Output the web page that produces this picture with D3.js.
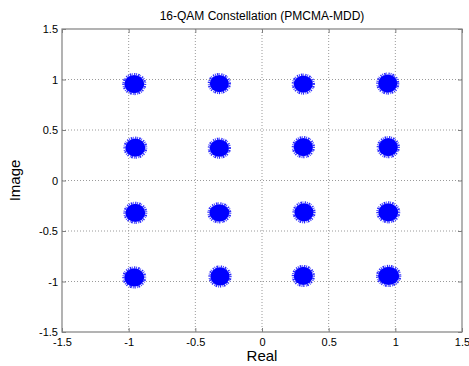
<!DOCTYPE html>
<html>
<head>
<meta charset="utf-8">
<script src="https://cdn.jsdelivr.net/npm/d3@7"></script>
<style>
  body { margin: 0; background: #fff; }
  svg { display: block; font-family: "Liberation Sans", Arial, sans-serif; }
</style>
</head>
<body>
<div id="chart"></div>
<script>
// cluster centres (real, imag), row by row from the top
var clusterReal = [-0.958, -0.32, 0.31, 0.943,
                   -0.95, -0.32, 0.31, 0.947,
                   -0.95, -0.32, 0.315, 0.947,
                   -0.958, -0.315, 0.31, 0.95];
var clusterImag = [0.955, 0.96, 0.955, 0.96,
                   0.325, 0.32, 0.33, 0.33,
                   -0.32, -0.32, -0.315, -0.315,
                   -0.96, -0.95, -0.945, -0.945];
// approximate half-spread of each cloud (real, imag)
var spreadReal = [0.075, 0.072, 0.072, 0.072,
                  0.075, 0.072, 0.072, 0.072,
                  0.075, 0.075, 0.072, 0.075,
                  0.075, 0.072, 0.072, 0.08];
var spreadImag = [0.09, 0.085, 0.085, 0.09,
                  0.09, 0.085, 0.09, 0.09,
                  0.09, 0.085, 0.09, 0.09,
                  0.09, 0.09, 0.09, 0.09];
var tickValues = [-1.5, -1, -0.5, 0, 0.5, 1, 1.5];

var margin = {top: 29, right: 7, bottom: 34, left: 62},
    width = 469 - margin.left - margin.right,
    height = 366 - margin.top - margin.bottom;

var svg = d3.select("#chart").append("svg")
    .attr("width", 469)
    .attr("height", 366);

var g = svg.append("g")
    .attr("transform", "translate(" + margin.left + "," + margin.top + ")");

var x = d3.scaleLinear().domain([-1.5, 1.5]).range([0, width]);
var y = d3.scaleLinear().domain([-1.5, 1.5]).range([height, 0]);

// dotted grid
g.append("g").selectAll("line")
    .data(tickValues.slice(1, -1))
    .enter().append("line")
    .attr("x1", d => x(d)).attr("x2", d => x(d))
    .attr("y1", 0).attr("y2", height)
    .attr("stroke", "#9a9a9a").attr("stroke-dasharray", "1,2");
g.append("g").selectAll("line")
    .data(tickValues.slice(1, -1))
    .enter().append("line")
    .attr("y1", d => y(d)).attr("y2", d => y(d))
    .attr("x1", 0).attr("x2", width)
    .attr("stroke", "#9a9a9a").attr("stroke-dasharray", "1,2");

// clusters: solid core plus a ragged rim
var pts = clusterReal.map((d, i) => ({re: d, im: clusterImag[i], sr: spreadReal[i], si: spreadImag[i]}));
var clouds = g.append("g");
clouds.selectAll("ellipse.core")
    .data(pts).enter().append("ellipse")
    .attr("cx", d => x(d.re)).attr("cy", d => y(d.im))
    .attr("rx", d => x(d.sr) - x(0))
    .attr("ry", d => y(0) - y(d.si))
    .attr("fill", "#0000ff");
clouds.selectAll("ellipse.edge")
    .data(pts).enter().append("ellipse")
    .attr("cx", d => x(d.re)).attr("cy", d => y(d.im))
    .attr("rx", d => x(d.sr) - x(0) + 0.8)
    .attr("ry", d => y(0) - y(d.si) + 0.8)
    .attr("fill", "none")
    .attr("stroke", "#2a2aff")
    .attr("stroke-width", 2.4)
    .attr("stroke-dasharray", "0.8,1.1,1.6,0.7,0.6,1.5,1.2,0.9");

// axes, MATLAB style box with inward ticks
var axisColor = "#808080";
function styleAxis(sel) {
  sel.select(".domain").remove();
  sel.selectAll(".tick line").attr("stroke", axisColor);
  sel.selectAll(".tick text").attr("fill", "#000").style("font-size", "11px");
}
g.append("g")
    .attr("transform", "translate(0," + height + ")")
    .call(d3.axisBottom(x).tickValues(tickValues).tickFormat(d => String(d)).tickSizeInner(-4).tickPadding(6))
    .call(styleAxis);
g.append("g")
    .call(d3.axisTop(x).tickValues(tickValues).tickSizeInner(-4).tickFormat(""))
    .call(styleAxis);
g.append("g")
    .call(d3.axisLeft(y).tickValues(tickValues).tickFormat(d => String(d)).tickSizeInner(-4).tickPadding(4))
    .call(styleAxis);
g.append("g")
    .attr("transform", "translate(" + width + ",0)")
    .call(d3.axisRight(y).tickValues(tickValues).tickSizeInner(-4).tickFormat(""))
    .call(styleAxis);

g.append("rect")
    .attr("width", width).attr("height", height)
    .attr("fill", "none").attr("stroke", axisColor).attr("stroke-width", 1.2);

// labels
svg.append("text")
    .attr("x", margin.left + width / 2).attr("y", 20)
    .attr("text-anchor", "middle").style("font-size", "12px")
    .text("16-QAM Constellation (PMCMA-MDD)");
svg.append("text")
    .attr("x", margin.left + width / 2).attr("y", 361)
    .attr("text-anchor", "middle").style("font-size", "15px")
    .text("Real");
svg.append("text")
    .attr("transform", "translate(20," + (margin.top + height / 2) + ") rotate(-90)")
    .attr("text-anchor", "middle").style("font-size", "15px")
    .text("Image");
</script>
</body>
</html>
